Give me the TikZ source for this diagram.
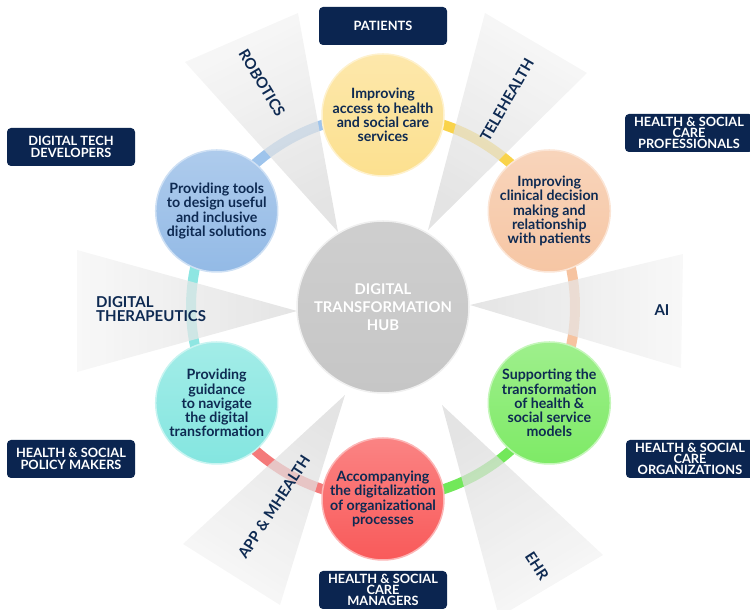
\documentclass[tikz,border=0pt]{standalone}
\usepackage{fontspec}
\setmainfont{Lato}
\definecolor{navy}{HTML}{0E2A52}
\definecolor{boxnavy}{HTML}{0B2550}
\definecolor{cYel}{HTML}{FCE08F}
\definecolor{aYel}{HTML}{F9D34A}
\definecolor{cPea}{HTML}{F6C6A4}
\definecolor{aPea}{HTML}{F6C3A0}
\definecolor{cGre}{HTML}{7EEA66}
\definecolor{aGre}{HTML}{72E85A}
\definecolor{cRed}{HTML}{F95A5A}
\definecolor{aRed}{HTML}{F47A7A}
\definecolor{cCya}{HTML}{84E6E0}
\definecolor{aCya}{HTML}{8EE6E2}
\definecolor{cBlu}{HTML}{93BAE6}
\definecolor{aBlu}{HTML}{9EC4EC}
\definecolor{hubgray}{HTML}{C6C6C6}
\definecolor{wIn}{HTML}{DADADA}
\definecolor{wOut}{HTML}{F5F5F5}
\tikzset{
  sat/.style={circle, minimum size=122pt, inner sep=0pt, align=center,
    text=navy, font=\bfseries\fontsize{14.2}{14.2}\selectfont,
    top color=#1!75!white, bottom color=#1, draw=#1!45!white, line width=1.5pt},
  ring/.style={line width=10pt, draw=#1},
  wedgeshape/.style={top color=wOut, bottom color=wIn, opacity=0.72},
  wlabel/.style={text=navy, font=\bfseries\fontsize{15}{15}\selectfont, inner sep=0pt},
  tagbox/.style={rounded corners=4pt, fill=boxnavy, text=white, align=center,
    font=\bfseries\fontsize{12.8}{11.3}\selectfont, minimum width=128pt,
    minimum height=38pt, inner sep=0pt},
}
\begin{document}
\begin{tikzpicture}[x=1pt,y=1pt]
\useasboundingbox (0,0) rectangle (750,610);
\clip (0,0) rectangle (750,610);
\coordinate (hubc) at (383,303);
\path (hubc) ++(90:192) coordinate (pY);
\path (hubc) ++(30:192) coordinate (pP);
\path (hubc) ++(-30:192) coordinate (pG);
\path (hubc) ++(-90:192) coordinate (pR);
\path (hubc) ++(-150:192) coordinate (pC);
\path (hubc) ++(150:192) coordinate (pB);
% ring connectors
\draw[ring=aBlu] (pB) arc[start angle=150, end angle=90, radius=192];
\draw[ring=aYel] (pY) arc[start angle=90, end angle=30, radius=192];
\draw[ring=aPea] (pP) arc[start angle=30, end angle=-30, radius=192];
\draw[ring=aGre] (pG) arc[start angle=-30, end angle=-90, radius=192];
\draw[ring=aRed] (pR) arc[start angle=-90, end angle=-150, radius=192];
\draw[ring=aCya] (pC) arc[start angle=-150, end angle=-210, radius=192];
% wedges
\shade[wedgeshape, shading angle=26] (338,378) -- (185,548) -- (298,597) -- cycle;
\shade[wedgeshape, shading angle=-30] (428,380) -- (485,597) -- (587,537) -- cycle;
\shade[wedgeshape, shading angle=-90] (470,305) -- (683,356) -- (681,242) -- cycle;
\shade[wedgeshape, shading angle=-149] (442,205) -- (603,55) -- (499,-7) -- cycle;
\shade[wedgeshape, shading angle=148] (345,215) -- (183,66) -- (280,5) -- cycle;
\shade[wedgeshape, shading angle=90] (297,299) -- (77,360) -- (77,238) -- cycle;
% wedge labels
\node[wlabel, rotate=-59] (lRob) at (262,527) {ROBOTICS};
\node[wlabel, rotate=60] (lTel) at (507,510) {TELEHEALTH};
\node[wlabel] (lAI) at (662,300) {AI};
\node[wlabel, rotate=-57] (lEHR) at (537,44) {EHR};
\node[wlabel, rotate=57] (lApp) at (274,103) {APP \& MHEALTH};
\node[wlabel, anchor=west, align=left, font=\bfseries\fontsize{15}{14}\selectfont] (lDT) at (96,301) {DIGITAL\\THERAPEUTICS};
% hub
\node[circle, minimum size=172pt, inner sep=0pt, top color=hubgray!85!white, bottom color=hubgray,
  draw=white!88!gray, line width=1.5pt, text=white, align=center,
  font=\bfseries\fontsize{14.8}{18}\selectfont] (hub) at (hubc) {DIGITAL\\TRANSFORMATION\\HUB};
% satellites
\node[sat=cYel] (nY) at (pY) {Improving\\access to health\\and social care\\services};
\node[sat=cPea] (nP) at (pP) {Improving\\clinical decision\\making and\\relationship\\with patients};
\node[sat=cGre] (nG) at (pG) {Supporting the\\transformation\\of health \&\\social service\\models};
\node[sat=cRed] (nR) at (pR) {Accompanying\\the digitalization\\of organizational\\processes};
\node[sat=cCya] (nC) at (pC) {Providing\\guidance\\to navigate\\the digital\\transformation};
\node[sat=cBlu] (nB) at (pB) {Providing tools\\to design useful\\and inclusive\\digital solutions};
% stakeholder boxes
\node[tagbox] (tPat) at (383,584) {PATIENTS};
\node[tagbox] (tDev) at (71,463) {DIGITAL TECH\\DEVELOPERS};
\node[tagbox] (tPro) at (689,477) {HEALTH \& SOCIAL\\CARE\\PROFESSIONALS};
\node[tagbox] (tPol) at (71,151) {HEALTH \& SOCIAL\\POLICY MAKERS};
\node[tagbox] (tOrg) at (690,151) {HEALTH \& SOCIAL\\CARE\\ORGANIZATIONS};
\node[tagbox] (tMan) at (383,20) {HEALTH \& SOCIAL\\CARE\\MANAGERS};
\end{tikzpicture}
\end{document}
